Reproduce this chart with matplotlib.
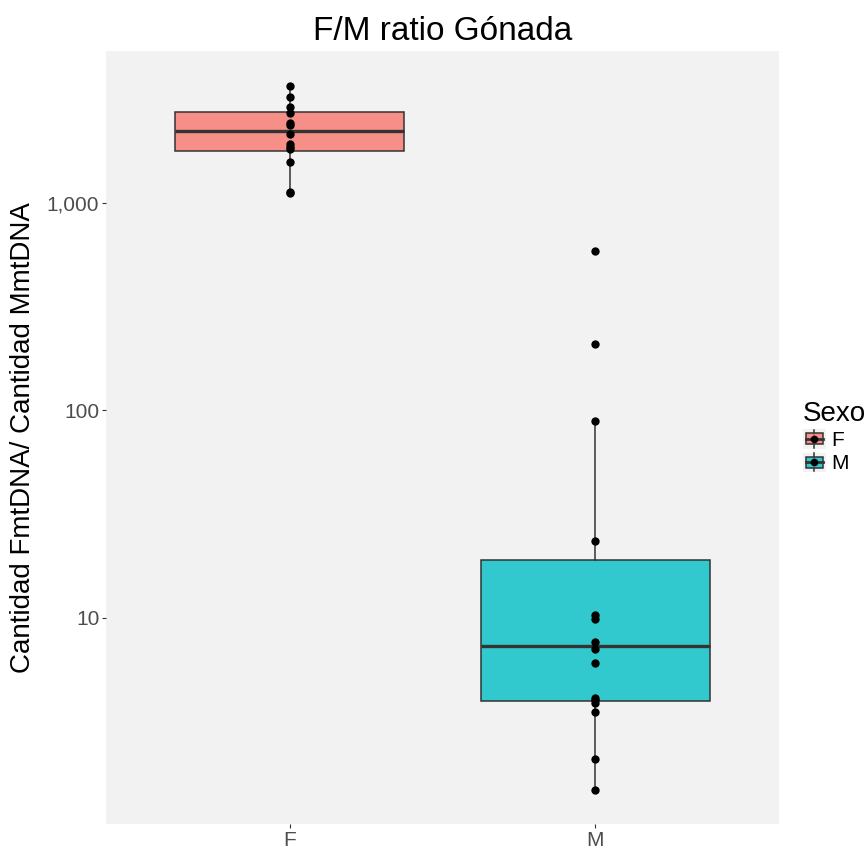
import matplotlib
matplotlib.use('Agg')
import matplotlib.pyplot as plt
from matplotlib.patches import Rectangle
from matplotlib.lines import Line2D
from matplotlib.ticker import FixedLocator, FuncFormatter, NullLocator

plt.rcParams['font.family'] = ['Liberation Sans', 'DejaVu Sans']

groups = ['F', 'M']
fills = ['#F8766D', '#00BFC4']

# individual samples
f_values = [3664, 3252, 2892, 2723, 2421, 2376, 2142, 1923, 1854, 1820, 1575, 1132, 1112]
m_values = [586, 208, 88.7, 23.4, 10.3, 9.83, 7.59, 7.05, 6.01, 4.10, 4.00, 3.88, 3.49, 2.08, 1.48]

# box statistics as drawn (log-scale boxplot)
q1 = [1774, 3.94]
median = [2230, 7.31]
q3 = [2754, 19.0]
whisker_lo = [1112, 1.48]
whisker_hi = [3664, 88.7]

y_ticks = [10, 100, 1000]

panel_bg = '#F2F2F2'
dark = '#333333'

fig = plt.figure(figsize=(8.65, 8.5), dpi=100)
ax = fig.add_axes([106 / 865, 26 / 850, 673 / 865, 773 / 850])
ax.set_facecolor(panel_bg)
for s in ax.spines.values():
    s.set_visible(False)

stats = []
for i, g in enumerate(groups):
    stats.append(dict(label=g, q1=q1[i], med=median[i], q3=q3[i],
                      whislo=whisker_lo[i], whishi=whisker_hi[i], fliers=[]))

bp = ax.bxp(stats, positions=[1, 2], widths=0.75, patch_artist=True, showcaps=False,
            boxprops=dict(edgecolor=dark, linewidth=1.1),
            whiskerprops=dict(color=dark, linewidth=1.1),
            medianprops=dict(color=dark, linewidth=2.4, solid_capstyle='butt'),
            manage_ticks=False, zorder=2)
for patch, c in zip(bp['boxes'], fills):
    patch.set_facecolor(matplotlib.colors.to_rgba(c, 0.8))

for i, vals in enumerate([f_values, m_values]):
    ax.scatter([i + 1] * len(vals), vals, s=36, color='black', zorder=4, linewidths=0)

ax.set_yscale('log')
ax.set_ylim(1.009, 5408)
ax.set_xlim(0.4, 2.6)
ax.yaxis.set_major_locator(FixedLocator(y_ticks))
ax.yaxis.set_minor_locator(NullLocator())
ax.yaxis.set_major_formatter(FuncFormatter(lambda v, p: f'{v:,.0f}'))
ax.set_xticks([1, 2])
ax.set_xticklabels(groups)
ax.tick_params(axis='both', length=3.1, width=0.8, color=dark, labelcolor='#4D4D4D',
               labelsize=15)
ax.tick_params(axis='y', pad=1.7)
ax.tick_params(axis='x', pad=2.0)

ax.set_ylabel('Cantidad FmtDNA/ Cantidad MmtDNA', fontsize=20, color='black', labelpad=8)
ax.set_title('F/M ratio Gónada', fontsize=24, color='black', pad=8)


class BoxKey:
    def __init__(self, color):
        self.color = color

    def legend_artist(self, legend, orig_handle, fontsize, handlebox):
        x0, y0 = -handlebox.xdescent, -handlebox.ydescent
        w, h = handlebox.width, handlebox.height
        tr = handlebox.get_transform()
        bg = Rectangle((x0, y0), w, h, facecolor=panel_bg, edgecolor='none', transform=tr)
        wl = Line2D([x0 + w / 2] * 2, [y0 + 0.02 * h, y0 + 0.98 * h], color=dark, lw=1.1, transform=tr)
        box = Rectangle((x0 + 0.12 * w, y0 + 0.22 * h), 0.76 * w, 0.56 * h,
                        facecolor=matplotlib.colors.to_rgba(self.color, 0.8), edgecolor=dark,
                        lw=1.1, transform=tr)
        ml = Line2D([x0 + 0.12 * w, x0 + 0.88 * w], [y0 + h / 2] * 2, color=dark, lw=2.0, transform=tr)
        pt = Line2D([x0 + w / 2], [y0 + h / 2], marker='o', ms=5.5, color='black', mec='none',
                    transform=tr)
        for a in (bg, wl, box, ml, pt):
            handlebox.add_artist(a)
        return bg


handles = [Rectangle((0, 0), 1, 1) for _ in groups]
leg = fig.legend(handles, groups, title='Sexo', loc='center left',
                 bbox_to_anchor=(803 / 865, 1 - 437 / 850), frameon=False,
                 fontsize=15, title_fontsize=20, handlelength=1.1, handleheight=1.05,
                 handletextpad=0.25, labelspacing=0.12, borderpad=0, borderaxespad=0,
                 alignment='left',
                 handler_map={h: BoxKey(c) for h, c in zip(handles, fills)})

fig.savefig('out.png', dpi=100)
